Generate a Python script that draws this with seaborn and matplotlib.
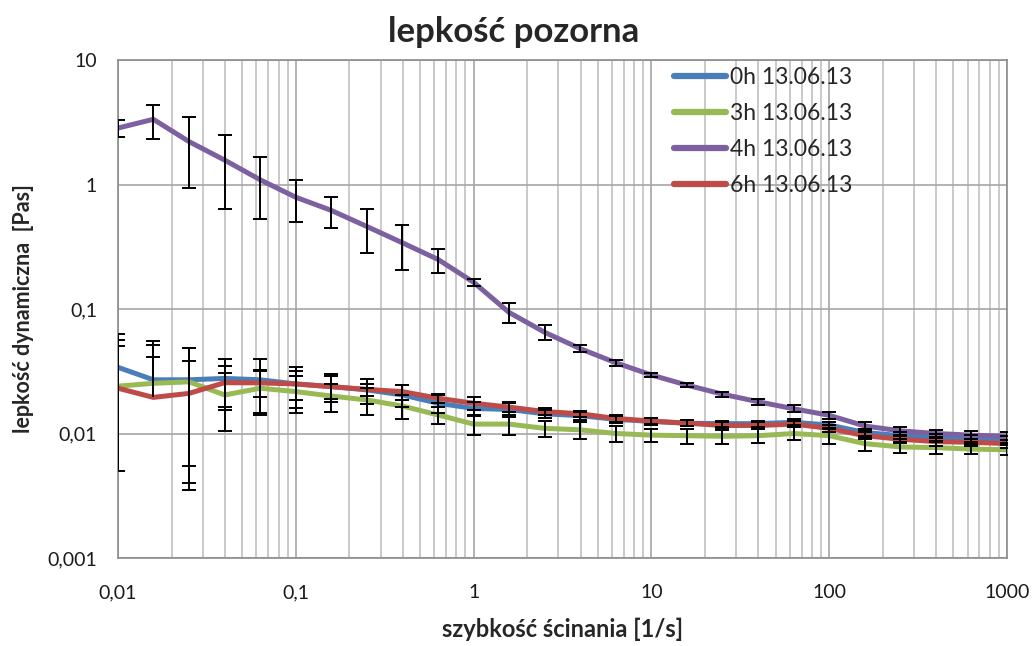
import numpy as np
import pandas as pd
import matplotlib
matplotlib.use("Agg")
import matplotlib.pyplot as plt
import seaborn as sns
from matplotlib.ticker import LogLocator, NullFormatter

# ---------------- data ----------------
shear_rate = [0.01, 0.0158, 0.0251, 0.0398, 0.0631, 0.1, 0.158, 0.251, 0.398, 0.631,
              1.0, 1.58, 2.51, 3.98, 6.31, 10, 15.8, 25.1, 39.8, 63.1,
              100, 158, 251, 398, 631, 1000]

series_names = ["0h 13.06.13", "3h 13.06.13", "4h 13.06.13", "6h 13.06.13"]

visc_0h = [0.034, 0.027, 0.027, 0.0277, 0.027, 0.025, 0.0238, 0.0224, 0.0204, 0.0175,
           0.0159, 0.0156, 0.0144, 0.0139, 0.013, 0.0125, 0.0121, 0.012, 0.012, 0.0123,
           0.0117, 0.0102, 0.0096, 0.0093, 0.0091, 0.009]
visc_3h = [0.024, 0.0253, 0.026, 0.0204, 0.0231, 0.0217, 0.02, 0.0186, 0.0166, 0.0141,
           0.0119, 0.0119, 0.011, 0.0107, 0.01, 0.0097, 0.0096, 0.0095, 0.0096, 0.01,
           0.0096, 0.0083, 0.0078, 0.0077, 0.0075, 0.0074]
visc_4h = [2.84, 3.34, 2.21, 1.57, 1.09, 0.79, 0.62, 0.46, 0.34, 0.25,
           0.164, 0.094, 0.065, 0.048, 0.037, 0.0295, 0.0245, 0.0207, 0.018, 0.0158,
           0.014, 0.0115, 0.0105, 0.0100, 0.0097, 0.0095]
visc_6h = [0.0231, 0.0195, 0.021, 0.0256, 0.0255, 0.025, 0.0238, 0.0226, 0.0217, 0.0192,
           0.0175, 0.0163, 0.015, 0.0144, 0.0132, 0.0126, 0.0121, 0.0116, 0.0116, 0.0119,
           0.011, 0.0096, 0.009, 0.0086, 0.0085, 0.0083]

# standard deviations (error bars)
sd_0h = [0.029, 0.028, 0.0215, 0.0123, 0.0125, 0.009, 0.006, 0.005, 0.004, 0.003,
         0.002, 0.002, 0.001, 0.001, 0.0008, 0.0007, 0.0007, 0.0007, 0.0007, 0.0007,
         0.0007, 0.0006, 0.0006, 0.0006, 0.0006, 0.0006]
sd_3h = [0.032, 0.026, 0.0225, 0.010, 0.009, 0.007, 0.005, 0.0045, 0.0036, 0.0022,
         0.0021, 0.0022, 0.0017, 0.0016, 0.0014, 0.0012, 0.0013, 0.0012, 0.0012, 0.0012,
         0.0013, 0.001, 0.0008, 0.0008, 0.0007, 0.0007]
sd_4h = [0.45, 1.0, 1.27, 0.93, 0.56, 0.29, 0.175, 0.18, 0.135, 0.055,
         0.01, 0.017, 0.009, 0.003, 0.002, 0.001, 0.001, 0.001, 0.001, 0.001,
         0.001, 0.0008, 0.0007, 0.0007, 0.0007, 0.0007]
sd_6h = [0.027, 0.0215, 0.017, 0.0092, 0.006, 0.0065, 0.005, 0.0025, 0.003, 0.0015,
         0.002, 0.0015, 0.001, 0.0008, 0.0008, 0.0007, 0.0007, 0.0007, 0.0007, 0.0007,
         0.0007, 0.0006, 0.0006, 0.0006, 0.0006, 0.0006]

x_ticks = [0.01, 0.1, 1, 10, 100, 1000]
x_tick_labels = ["0,01", "0,1", "1", "10", "100", "1000"]
y_ticks = [0.001, 0.01, 0.1, 1, 10]
y_tick_labels = ["0,001", "0,01", "0,1", "1", "10"]

colors = ["#4A7EBB", "#98B954", "#7D60A0", "#BE4B48"]

# ---------------- figure ----------------
sns.set_style("white")
plt.rcParams["font.family"] = ["Lato", "DejaVu Sans"]

fig = plt.figure(figsize=(10.35, 6.46), dpi=100)
ax = fig.add_axes([118 / 1035, 1 - 558 / 646, (1007 - 118) / 1035, (558 - 60) / 646])

values = [visc_0h, visc_3h, visc_4h, visc_6h]
sds = [sd_0h, sd_3h, sd_4h, sd_6h]
frames = []
for name, v in zip(series_names, values):
    frames.append(pd.DataFrame({"x": shear_rate, "y": v, "series": name}))
df = pd.concat(frames, ignore_index=True)

ax.set_xscale("log")
ax.set_yscale("log")

sns.lineplot(data=df, x="x", y="y", hue="series", hue_order=series_names,
             palette=colors, linewidth=3.6, ax=ax, sort=False, legend=True,
             solid_capstyle="round", solid_joinstyle="round", zorder=3)

xs = np.array(shear_rate)
for v, s in zip(values, sds):
    v = np.array(v)
    s = np.array(s)
    hi = v + s
    lo_ok = v - s > 0
    lo = np.where(lo_ok, v - s, v)
    ax.vlines(xs, lo, hi, color="black", linewidth=1.4, zorder=4)
    ax.plot(xs, hi, ls="none", marker="_", ms=10, mew=1.4, color="black", zorder=4)
    ax.plot(xs[lo_ok], (v - s)[lo_ok], ls="none", marker="_", ms=10, mew=1.4,
            color="black", zorder=4)

ax.set_xlim(0.01, 1000)
ax.set_ylim(0.001, 10)

ax.set_xticks(x_ticks)
ax.set_xticklabels(x_tick_labels)
ax.set_yticks(y_ticks)
ax.set_yticklabels(y_tick_labels)
ax.xaxis.set_minor_locator(LogLocator(base=10, subs=np.arange(2, 10), numticks=20))
ax.yaxis.set_minor_locator(LogLocator(base=10, subs=np.arange(2, 10), numticks=20))
ax.xaxis.set_minor_formatter(NullFormatter())
ax.yaxis.set_minor_formatter(NullFormatter())

ax.grid(which="major", axis="both", color="#A6A6A6", linewidth=1.2, zorder=0)
ax.grid(which="minor", axis="x", color="#C0C0C0", linewidth=1.2, zorder=0)
ax.grid(which="minor", axis="y", visible=False)
ax.set_axisbelow(True)

for sp in ax.spines.values():
    sp.set_color("#8C8C8C")
    sp.set_linewidth(1.2)

ax.tick_params(axis="x", which="major", direction="out", length=5, width=1.2,
               color="#8C8C8C", labelsize=14, pad=14, labelcolor="#1a1a1a")
ax.tick_params(axis="x", which="minor", length=0)
ax.tick_params(axis="y", which="major", direction="inout", length=10, width=1.2,
               color="#8C8C8C", labelsize=14, pad=10, labelcolor="#1a1a1a")
ax.tick_params(axis="y", which="minor", direction="in", length=5, width=1.0,
               color="#8C8C8C")

ax.set_xlabel("szybkość ścinania [1/s]", fontsize=17, fontweight="bold", labelpad=12)
ax.set_ylabel("lepkość dynamiczna  [Pas]", fontsize=15.5, fontweight="bold", labelpad=10)
fig.text(514 / 1035, 1 - 32 / 646, "lepkość pozorna", ha="center", va="center",
         fontsize=25, fontweight="bold")

leg = ax.legend(loc="upper left", bbox_to_anchor=((661 - 118) / 889, 1.012),
                frameon=False, fontsize=16.5, handlelength=2.3, handletextpad=0.15,
                labelspacing=0.66, borderaxespad=0.15)
for line in leg.get_lines():
    line.set_linewidth(4.5)
    line.set_solid_capstyle("round")

fig.savefig("out.png", dpi=100, facecolor="white")
